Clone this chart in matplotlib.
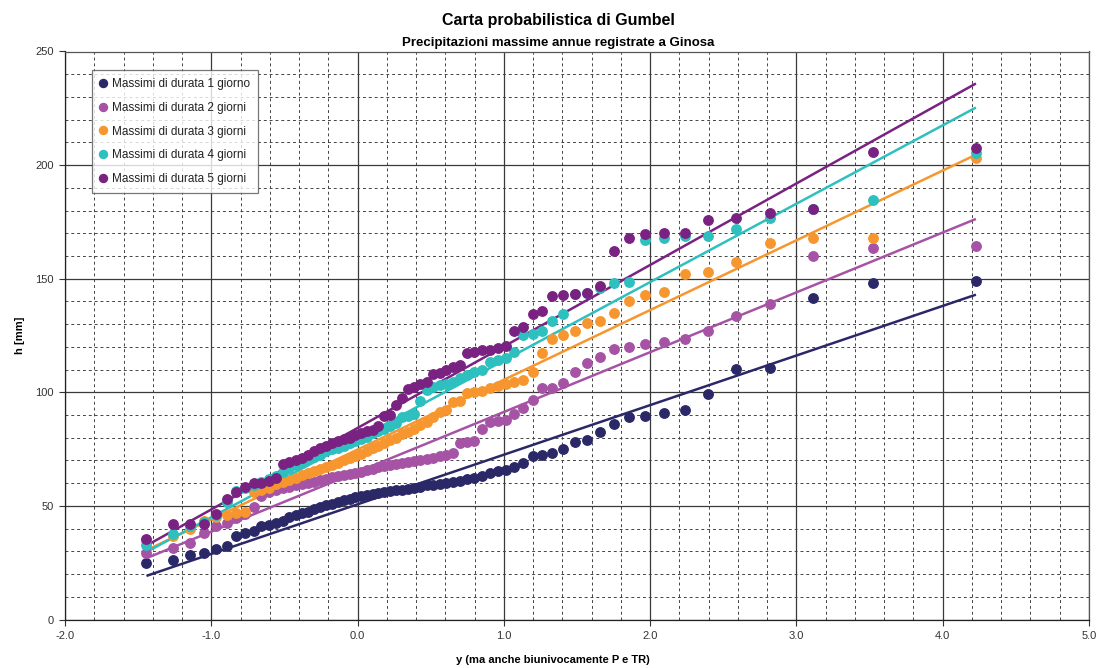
import matplotlib
matplotlib.use("Agg")
import matplotlib.pyplot as plt
from matplotlib.ticker import MultipleLocator, FormatStrFormatter

plt.rcParams['font.family'] = ['Liberation Sans', 'DejaVu Sans']

# Gumbel reduced variate (plotting positions) shared by all series
y_rid = [-1.443, -1.264, -1.143, -1.047, -0.965, -0.893, -0.828, -0.768, -0.711, -0.658,
         -0.608, -0.559, -0.512, -0.467, -0.423, -0.379, -0.337, -0.295, -0.254, -0.214,
         -0.174, -0.134, -0.094, -0.055, -0.015, 0.024, 0.064, 0.103, 0.143, 0.183,
         0.223, 0.263, 0.304, 0.346, 0.387, 0.430, 0.473, 0.517, 0.561, 0.607,
         0.653, 0.700, 0.749, 0.799, 0.850, 0.903, 0.957, 1.014, 1.072, 1.133,
         1.196, 1.263, 1.332, 1.406, 1.484, 1.567, 1.655, 1.751, 1.854, 1.968,
         2.094, 2.235, 2.397, 2.587, 2.818, 3.113, 3.526, 4.227]

# Annual maxima sorted ascending [mm]
h_1g = [25, 26.3, 28.2, 29.3, 31, 32.5, 36.7, 38, 39, 41,
        41.5, 42.3, 43.5, 45, 46, 46.8, 47.5, 48.5, 49.5, 50.3,
        51, 51.8, 52.5, 53.2, 54, 54.5, 55, 55.3, 55.6, 56,
        56.4, 56.8, 57.2, 57.6, 58, 58.5, 59, 59.4, 59.8, 60.2,
        60.6, 61, 61.8, 62.5, 63.3, 64.5, 65.3, 65.8, 67, 69,
        71.8, 72.4, 73.5, 75, 78.2, 79, 82.7, 86, 89.3, 89.7,
        91, 92.2, 99.3, 110.3, 110.7, 141.5, 148.2, 148.8]
h_2g = [29.3, 31.5, 33.5, 38, 41, 42.5, 44.5, 46.5, 49.5, 54.5,
        56, 57, 58, 58.5, 59, 59.5, 60, 60.5, 61.2, 62,
        62.6, 63, 63.5, 64, 64.5, 65, 65.8, 66.3, 67, 67.6,
        68, 68.5, 69, 69.3, 69.8, 70.3, 70.8, 71.3, 72, 72.5,
        73.5, 77.5, 78, 78.5, 83.8, 87, 87.2, 88, 90.5, 93.2,
        96.5, 101.8, 102, 104, 109, 112.8, 115.5, 119, 120, 121.3,
        122, 123.5, 127.2, 133.8, 138.8, 160, 163.3, 164.6]
h_3g = [35, 36.7, 40, 43.5, 45, 46, 46.7, 47.4, 56, 57,
        58, 59.5, 60.5, 61.5, 62.5, 63.5, 64.5, 65.5, 66.3, 67,
        68, 69, 70, 71, 72, 73, 74, 75.5, 76.5, 77.5,
        79, 80, 81.5, 82.5, 84, 85.5, 87, 89, 91.2, 92,
        95.6, 96.3, 99.7, 100.3, 100.4, 101.8, 102.9, 103.7, 104.4, 105.4,
        108.8, 117.4, 123.5, 125, 127.2, 130.5, 131.6, 135, 140, 143,
        144, 152, 153, 157.5, 165.5, 168, 168, 203]
h_4g = [33, 37.5, 41, 43, 46, 51.5, 56.5, 58, 59, 60.5,
        62, 63, 65, 66.5, 68, 69, 70.5, 71.5, 72.5, 74,
        75, 75.5, 76.5, 77.5, 78.5, 79.5, 80.5, 82, 83, 84,
        85, 86.5, 89, 89.7, 90.5, 96, 101, 102.5, 103.2, 103.7,
        104.4, 106.2, 107.4, 109.1, 109.6, 113.5, 114.4, 115, 117.6, 125,
        125.7, 127.2, 131.6, 134.6, 143.4, 143.8, 146, 148.2, 148.5, 167,
        168, 168.8, 168.8, 171.8, 176.5, 180.5, 184.7, 205.5]
h_5g = [35.5, 42, 42, 42.2, 46.5, 53, 56, 58.5, 60, 60.2,
        61, 62.4, 68.5, 69.5, 70.3, 71, 72.5, 74, 75.5, 76.5,
        77.5, 78.5, 79.5, 80, 81, 82, 83, 83.5, 85, 89.5,
        90, 94.5, 97.4, 101.5, 102.5, 103.7, 104.4, 108, 108.5, 109.6,
        111, 111.8, 117.4, 117.6, 118.4, 118.8, 119.4, 120.3, 127.2, 128.7,
        134.6, 136, 142.6, 143, 143.4, 143.5, 146.8, 162, 168, 169.5,
        170, 170.3, 175.7, 176.5, 179, 180.5, 205.8, 207.7]

# Gumbel fitted lines h = intercept + slope * y
fit_intercept = [50.7, 65.0, 74.8, 79.5, 84.3]
fit_slope = [21.83, 26.33, 30.7, 34.5, 35.87]

labels = ["Massimi di durata 1 giorno", "Massimi di durata 2 giorni",
          "Massimi di durata 3 giorni", "Massimi di durata 4 giorni",
          "Massimi di durata 5 giorni"]
colors = ["#2B2868", "#A653A6", "#F7962E", "#2EBFBF", "#7A2282"]
series = [h_1g, h_2g, h_3g, h_4g, h_5g]

fig = plt.figure(figsize=(10.96, 6.68), dpi=100)
ax = fig.add_axes([65 / 1096, 48.5 / 668, 1024 / 1096, 568 / 668])

ax.set_xlim(-2, 5)
ax.set_ylim(0, 250)

# grid: solid majors, dashed minors
ax.xaxis.set_major_locator(MultipleLocator(1.0))
ax.xaxis.set_minor_locator(MultipleLocator(0.2))
ax.yaxis.set_major_locator(MultipleLocator(50))
ax.yaxis.set_minor_locator(MultipleLocator(10))
ax.xaxis.set_major_formatter(FormatStrFormatter('%.1f'))
ax.grid(which='major', color='#3a3a3a', linewidth=0.9, linestyle='-', zorder=0)
ax.grid(which='minor', color='#444444', linewidth=0.7, linestyle=(0, (3, 3)), zorder=0)
ax.set_axisbelow(True)

ax.tick_params(which='major', length=4, width=0.8, color='#333333',
               labelsize=8, labelcolor='#333333', pad=4)
ax.tick_params(which='minor', length=0)
for sp in ax.spines.values():
    sp.set_color('#555555')
    sp.set_linewidth(0.9)
ax.spines['left'].set_color('#222222')
ax.spines['bottom'].set_color('#222222')

x0, x1 = y_rid[0], y_rid[-1]
for h, a, b, c, lab in zip(series, fit_intercept, fit_slope, colors, labels):
    ax.plot([x0, x1], [a + b * x0, a + b * x1], color=c, linewidth=1.8,
            solid_capstyle='butt', zorder=2)
for h, c, lab in zip(series, colors, labels):
    ax.plot(y_rid, h, linestyle='none', marker='o', markersize=6.8,
            markerfacecolor=c, markeredgecolor=c, label=lab, zorder=3)

leg = ax.legend(loc='upper left', bbox_to_anchor=(0.026, 0.968), fontsize=8.5,
                frameon=True, fancybox=False, borderpad=0.7, labelspacing=1.0,
                handlelength=0.6, handletextpad=0.4, borderaxespad=0,
                markerscale=0.85)
leg.get_frame().set_edgecolor('#555555')
leg.get_frame().set_linewidth(0.9)
for t in leg.get_texts():
    t.set_color('#222222')

fig.text(558 / 1096, 1 - 20 / 668, "Carta probabilistica di Gumbel",
         ha='center', va='center', fontsize=11.5, fontweight='bold')
fig.text(558 / 1096, 1 - 43 / 668, "Precipitazioni massime annue registrate a Ginosa",
         ha='center', va='center', fontsize=9.5, fontweight='bold')
fig.text(553 / 1096, 1 - 660 / 668, "y (ma anche biunivocamente P e TR)",
         ha='center', va='center', fontsize=8, fontweight='bold')
fig.text(20 / 1096, 1 - 335 / 668, "h [mm]", ha='center', va='center',
         rotation=90, fontsize=8, fontweight='bold')

fig.savefig("out.png", dpi=100, facecolor='white')
